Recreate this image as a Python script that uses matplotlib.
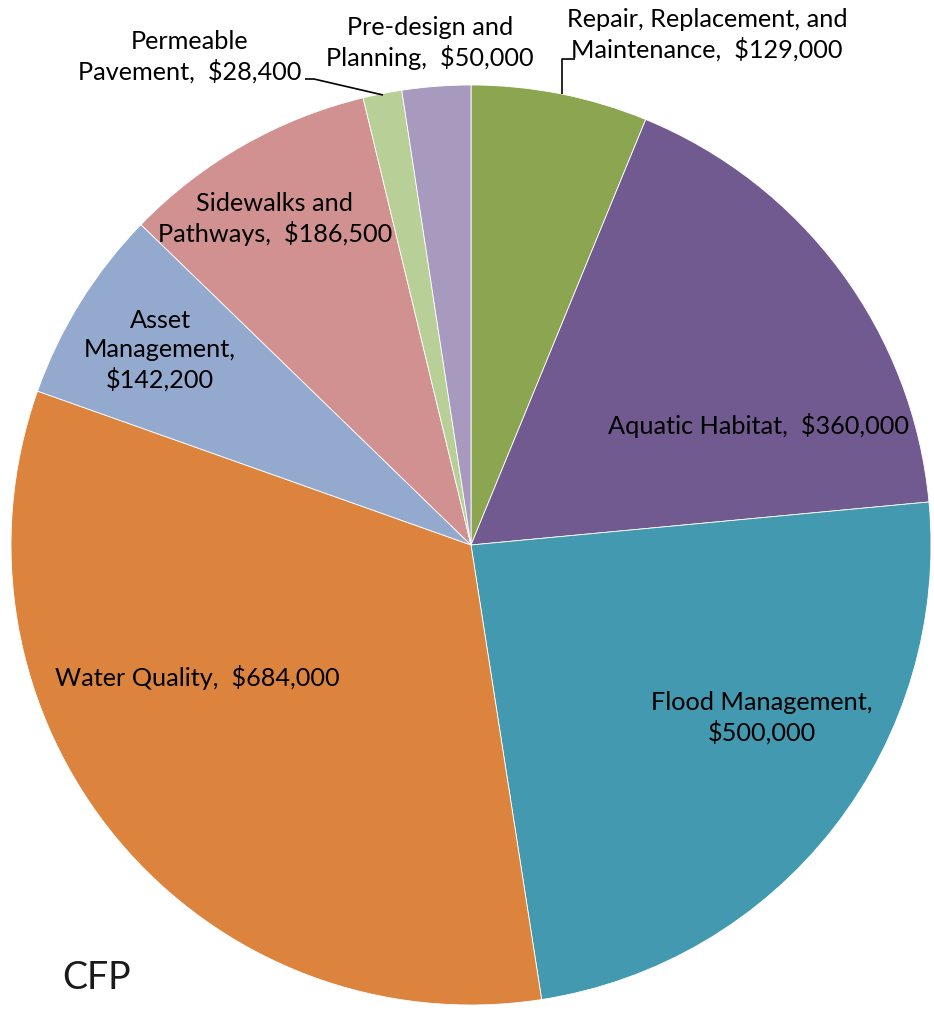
import matplotlib
matplotlib.use("Agg")
import matplotlib.pyplot as plt

# Capital facilities plan budget by category
categories = [
    "Repair, Replacement, and\nMaintenance",
    "Aquatic Habitat",
    "Flood Management",
    "Water Quality",
    "Asset\nManagement",
    "Sidewalks and\nPathways",
    "Permeable\nPavement",
    "Pre-design and\nPlanning",
]
amounts = [129000, 360000, 500000, 684000, 142200, 186500, 28400, 50000]
colors = ["#8BA550", "#715A8F", "#4399B0", "#DC843E",
          "#94A9CE", "#D09190", "#B8CF98", "#A899BF"]

W, H = 934, 1010
fig = plt.figure(figsize=(W / 100, H / 100), dpi=100)
ax = fig.add_axes([0, 0, 1, 1])

FONT = ["Lato", "DejaVu Sans"]
FS = 18.2


def py(y):
    return H - y


cx, cy, r = 471, 545, 460
ax.pie(amounts, colors=colors, startangle=90, counterclock=False,
       center=(cx, py(cy)), radius=r, frame=True,
       wedgeprops=dict(edgecolor="white", linewidth=0.6))
ax.set_xlim(0, W)
ax.set_ylim(0, H)
ax.set_aspect("equal")
ax.axis("off")


def money(v):
    return f"${v:,.0f}"


def label(i, x, y, sep=",  "):
    txt = categories[i] + sep + money(amounts[i])
    ax.text(x, py(y), txt, ha="center", va="center", fontsize=FS,
            family=FONT, linespacing=1.3, color="black")


# Labels placed inside or beside each slice
label(0, 707, 35)
label(1, 758, 426)
label(2, 762, 718, sep=",\n")
label(3, 197, 677)
label(4, 160, 350, sep=",\n")
label(5, 275, 219)
label(6, 190, 57)
label(7, 430, 43)

# Leader lines for the narrow slices
ax.plot([575, 562, 562], [py(59), py(59), py(94)], color="black", lw=1.2,
        solid_capstyle="butt")
ax.plot([305, 314, 383], [py(79), py(79), py(95)], color="black", lw=1.2,
        solid_capstyle="butt")

ax.text(62, py(978), "CFP", ha="left", va="center", fontsize=27,
        family=FONT, color="#1a1a1a")

fig.savefig("out.png", dpi=100, facecolor="white")
